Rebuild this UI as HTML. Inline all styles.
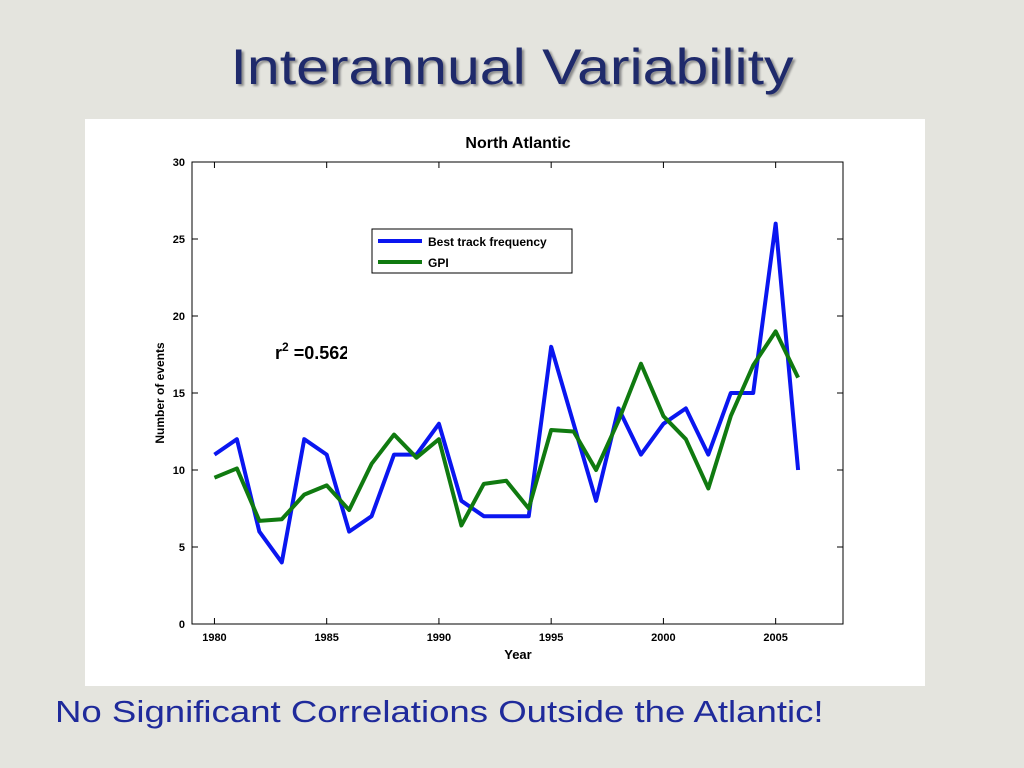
<!DOCTYPE html>
<html><head><meta charset="utf-8"><style>
body{margin:0;width:1024px;height:768px;overflow:hidden;background:#e4e4de;font-family:"Liberation Sans",sans-serif;position:relative}
#title{position:absolute;left:0;width:1024px;top:38px;text-align:center;font-size:50px;color:#1f2a6b;text-shadow:2px 2px 2px #8a8a8a;transform:scaleX(1.18);transform-origin:512px 0}
#sub{position:absolute;left:55px;top:694px;font-size:31px;color:#1f2a9b;transform:scaleX(1.18);transform-origin:0 0;white-space:nowrap}
#chart{position:absolute;left:85px;top:119px}
</style></head><body>
<div id="title">Interannual Variability</div>
<svg id="chart" width="840" height="567"></svg>
<div id="sub">No Significant Correlations Outside the Atlantic!</div>
<script>
const years=[1980,1981,1982,1983,1984,1985,1986,1987,1988,1989,1990,1991,1992,1993,1994,1995,1996,1997,1998,1999,2000,2001,2002,2003,2004,2005,2006];
const bestTrack=[11,12,6,4,12,11,6,7,11,11,13,8,7,7,7,18,13,8,14,11,13,14,11,15,15,26,10];
const gpi=[9.5,10.1,6.7,6.8,8.4,9.0,7.4,10.4,12.3,10.8,12.0,6.4,9.1,9.3,7.5,12.6,12.5,10.0,13.2,16.9,13.5,12.0,8.8,13.5,16.8,19.0,16.0];
const xTicks=[1980,1985,1990,1995,2000,2005];
const yTicks=[0,5,10,15,20,25,30];
const NS="http://www.w3.org/2000/svg";
const svg=document.getElementById('chart');
const L=107,R=758,T=43,B=505;
const x=v=>L+(v-1979)/(2008-1979)*(R-L);
const y=v=>B-v/30*(B-T);
function mk(t,a,txt){const e=document.createElementNS(NS,t);for(const k in a)e.setAttribute(k,a[k]);if(txt!==undefined)e.textContent=txt;svg.appendChild(e);return e;}
let bg=mk('rect',{x:0,y:0,width:840,height:567,fill:'#fff'});


let fr=mk('rect',{x:L,y:T,width:R-L,height:B-T,fill:'none',stroke:'#000','stroke-width':1});


xTicks.forEach(v=>{
 mk('line',{x1:x(v),x2:x(v),y1:B,y2:B-6,stroke:'#000'});mk('line',{x1:x(v),x2:x(v),y1:T,y2:T+6,stroke:'#000'});
 let t=mk('text',{x:x(v),y:B+17,'text-anchor':'middle','font-size':11,'font-weight':'bold'},v);
 
 
});
yTicks.forEach(v=>{
 mk('line',{x1:L,x2:L+6,y1:y(v),y2:y(v),stroke:'#000'});mk('line',{x1:R,x2:R-6,y1:y(v),y2:y(v),stroke:'#000'});
 let t=mk('text',{x:L-7,y:y(v)+4,'text-anchor':'end','font-size':11,'font-weight':'bold'},v);
 
 
});
let tt=mk('text',{x:433,y:29,'text-anchor':'middle','font-size':16,'font-weight':'bold'},'North Atlantic');


let xl=mk('text',{x:433,y:540,'text-anchor':'middle','font-size':13,'font-weight':'bold'},'Year');


let yl=mk('text',{x:0,y:0,'text-anchor':'middle','font-size':12,'font-weight':'bold',transform:'translate(79,274) rotate(-90)'},'Number of events');


function line(vals,col,name){let d=vals.map((v,i)=>(i?'L':'M')+x(years[i])+','+y(v)).join('');
 let p=mk('path',{d:d,fill:'none',stroke:col,'stroke-width':4,'stroke-linejoin':'round'});
 
 }
line(bestTrack,'#0a16f0','best-track-line');
line(gpi,'#107a10','gpi-line');
let lg=mk('rect',{x:287,y:110,width:200,height:44,fill:'#fff',stroke:'#000'});


mk('line',{x1:293,x2:337,y1:122,y2:122,stroke:'#0a16f0','stroke-width':4});
let l1=mk('text',{x:343,y:127,'font-size':12,'font-weight':'bold'},'Best track frequency');


mk('line',{x1:293,x2:337,y1:143,y2:143,stroke:'#107a10','stroke-width':4});
let l2=mk('text',{x:343,y:148,'font-size':12,'font-weight':'bold'},'GPI');


let r2=mk('text',{x:190,y:240,'font-size':18,'font-weight':'bold'});
r2.innerHTML='r<tspan dy="-8" font-size="12">2</tspan><tspan dy="8"> =0.562</tspan>';


mk('rect',{x:262,y:215,width:40,height:32,fill:'#fff'});
</script>
</body></html>
